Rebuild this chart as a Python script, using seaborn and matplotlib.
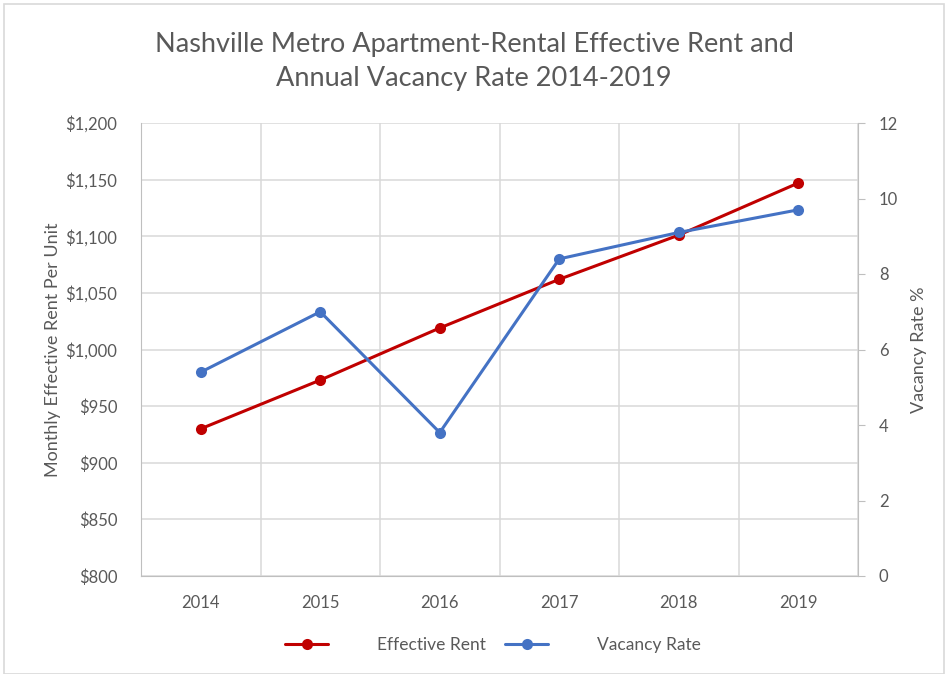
import pandas as pd
import seaborn as sns
import matplotlib.pyplot as plt
from matplotlib.lines import Line2D
from matplotlib.patches import Rectangle
from matplotlib.ticker import FuncFormatter, FixedLocator

years = ['2014', '2015', '2016', '2017', '2018', '2019']
effective_rent = [930, 973, 1019, 1062, 1101, 1147]
vacancy_rate = [5.4, 7.0, 3.8, 8.4, 9.1, 9.7]

red = '#C00000'
blue = '#4472C4'
txt = '#595959'

df = pd.DataFrame({'year': years, 'rent': effective_rent, 'vacancy': vacancy_rate})
df['pos'] = range(len(df))

sns.set_style('white')
plt.rcParams['font.family'] = ['Lato', 'DejaVu Sans']

fig = plt.figure(figsize=(9.48, 6.74), dpi=100)
ax = fig.add_axes([141 / 948, 1 - 576 / 674, 717 / 948, 453 / 674])
ax2 = ax.twinx()

sns.lineplot(data=df, x='pos', y='rent', ax=ax, color=red, marker='o',
             markersize=8, markeredgewidth=0, linewidth=2.2, zorder=3)
sns.lineplot(data=df, x='pos', y='vacancy', ax=ax2, color=blue, marker='o',
             markersize=8, markeredgewidth=0, linewidth=2.2, zorder=3)

ax.set_zorder(ax2.get_zorder() - 1)
ax.patch.set_visible(True)
ax2.patch.set_visible(False)

ax.set_xlim(-0.5, 5.5)
ax.set_ylim(800, 1200)
ax.set_yticks(range(800, 1201, 50))
ax.yaxis.set_major_formatter(FuncFormatter(lambda v, p: '${:,.0f}'.format(v)))
ax.set_xticks(range(len(years)))
ax.set_xticklabels(years)
ax.xaxis.set_minor_locator(FixedLocator([i + 0.5 for i in range(-1, 6)]))
ax.grid(True, which='major', axis='y', color='#D9D9D9', linewidth=1.1)
ax.grid(True, which='minor', axis='x', color='#D9D9D9', linewidth=1.1)
ax.grid(False, which='major', axis='x')

ax2.set_ylim(0, 12)
ax2.set_yticks(range(0, 13, 2))
ax2.grid(False)

for a in (ax, ax2):
    for s in a.spines.values():
        s.set_visible(False)
ax.spines['left'].set_visible(True)
ax.spines['left'].set_color('#BFBFBF')
ax.spines['bottom'].set_visible(True)
ax.spines['bottom'].set_color('#BFBFBF')
ax2.spines['right'].set_visible(True)
ax2.spines['right'].set_color('#BFBFBF')

ax.tick_params(axis='both', which='both', length=0, labelsize=12, labelcolor=txt)
ax.tick_params(axis='y', pad=17)
ax.tick_params(axis='x', pad=14)
ax2.tick_params(axis='y', length=5, color='#BFBFBF', direction='out', labelsize=12,
                labelcolor=txt, pad=10)

ax.set_xlabel('')
ax.set_ylabel('Monthly Effective Rent Per Unit', fontsize=13, color=txt, labelpad=3)
ax2.set_ylabel('Vacancy Rate %', fontsize=13, color=txt, labelpad=9)

fig.text(0.5, 0.909, 'Nashville Metro Apartment-Rental Effective Rent and\nAnnual Vacancy Rate 2014-2019',
         ha='center', va='center', fontsize=19.5, color=txt, linespacing=1.45)

handles = [Line2D([], [], color=red, marker='o', markersize=8, linewidth=2.2, markeredgewidth=0),
           Line2D([], [], color=blue, marker='o', markersize=8, linewidth=2.2, markeredgewidth=0)]
fig.legend(handles, ['Effective Rent', 'Vacancy Rate'], loc='center', bbox_to_anchor=(0.52, 0.043),
           ncol=2, frameon=False, fontsize=12.5, labelcolor=txt, handlelength=2.5,
           handletextpad=2.8, columnspacing=1.1)

fig.patches.append(Rectangle((4 / 948, 0.0), 940 / 948, 1 - 4 / 674, transform=fig.transFigure,
                             fill=False, edgecolor='#D9D9D9', linewidth=1.2))

fig.savefig('out.png', dpi=100)
